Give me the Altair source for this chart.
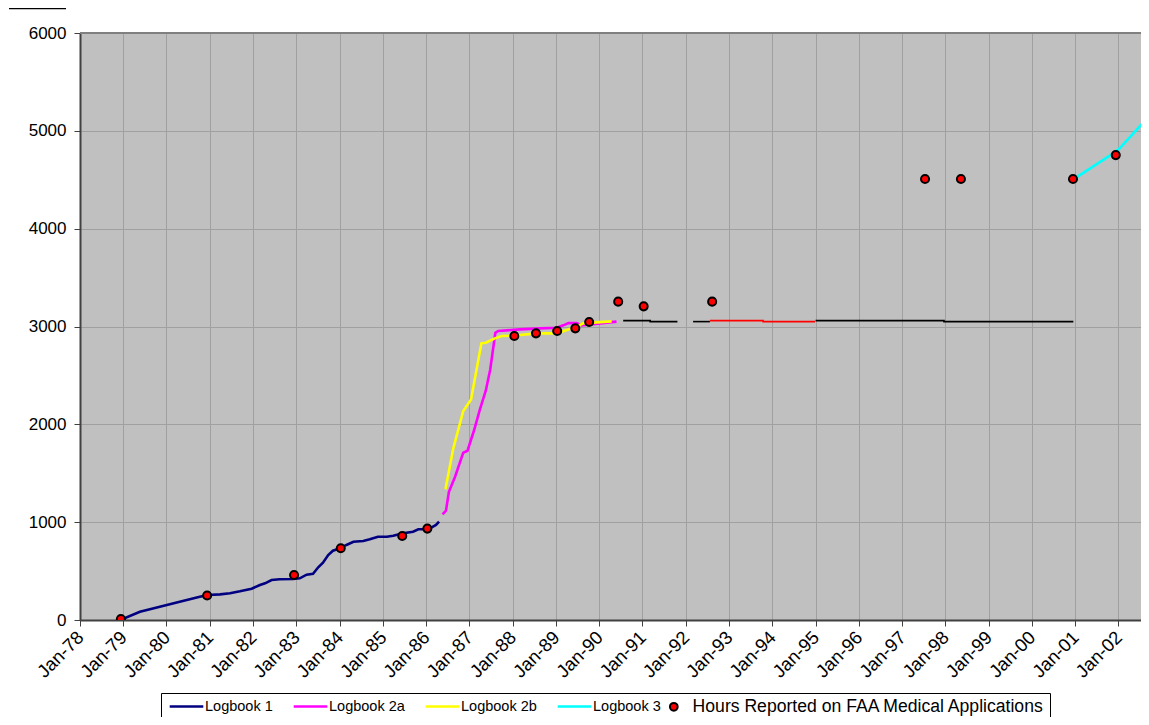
import altair as alt
import pandas as pd

# ---------------- data ----------------
lb1_dates = ["1978-12-08", "1979-05-22", "1979-11-06", "1980-04-22", "1980-10-08", "1980-12-16",
             "1981-03-28", "1981-06-20", "1981-09-12", "1981-12-20", "1982-02-28", "1982-04-12",
             "1982-06-06", "1982-08-14", "1982-12-05", "1983-01-30", "1983-03-29", "1983-05-22",
             "1983-07-05", "1983-08-14", "1983-09-27", "1983-11-06", "1984-01-04", "1984-02-28",
             "1984-04-27", "1984-07-19", "1984-09-12", "1984-11-20", "1985-02-03", "1985-03-29",
             "1985-06-21", "1985-09-12", "1985-10-27", "1986-01-04", "1986-02-17", "1986-03-25",
             "1986-04-20"]
lb1_hours = [0, 85, 136, 187, 238, 255, 262, 273, 293, 320, 358, 375, 409, 416, 419, 426, 463, 473,
             539, 586, 664, 708, 733, 767, 800, 807, 825, 851, 851, 862, 886, 903, 927, 927, 947, 971,
             1005]

lb2a_dates = ["1986-05-19", "1986-06-17", "1986-07-12", "1986-09-02", "1986-11-10", "1986-12-16",
              "1987-02-10", "1987-03-29", "1987-05-19", "1987-06-25", "1987-08-08", "1987-09-02",
              "1988-03-03", "1988-08-18", "1989-01-08", "1989-03-04", "1989-04-16", "1989-06-25",
              "1989-08-04", "1990-05-27"]
lb2a_hours = [1080, 1117, 1311, 1465, 1710, 1730, 1942, 2146, 2344, 2555, 2936, 2954, 2971, 2981,
              2988, 3012, 3035, 3035, 3012, 3050]

lb2b_dates = ["1986-06-13", "1986-08-18", "1986-11-10", "1987-01-15", "1987-04-12", "1987-05-19",
              "1987-08-04", "1987-10-01", "1988-01-04", "1988-07-19", "1989-01-08", "1989-04-01",
              "1989-06-25", "1989-08-18", "1989-12-10", "1990-04-16"]
lb2b_hours = [1336, 1755, 2136, 2255, 2828, 2834, 2879, 2903, 2906, 2930, 2930, 2964, 2998, 3032,
              3042, 3052]

lb3_dates = ["2000-12-16", "2001-11-17", "2002-01-11", "2002-09-12"]
lb3_hours = [4504, 4770, 4821, 5145]

# unlabelled flat segments (black and red)
black_seg_ids = ["b1", "b1", "b1", "b1", "b2", "b2", "b3", "b3", "b3", "b3"]
black_seg_dates = ["1990-07-22", "1991-03-07", "1991-03-07", "1991-10-23",
                   "1992-03-03", "1992-07-23",
                   "1995-01-01", "1997-12-20", "1997-12-20", "2000-12-16"]
black_seg_hours = [3060, 3060, 3050, 3050, 3050, 3050, 3060, 3060, 3050, 3050]

red_seg_dates = ["1992-07-23", "1993-10-15", "1993-10-15", "1994-12-28"]
red_seg_hours = [3060, 3060, 3050, 3050]

faa_dates = ["1978-12-12", "1980-12-09", "1982-12-13", "1984-01-11", "1985-06-13", "1986-01-11",
             "1988-01-15", "1988-07-16", "1989-01-11", "1989-06-13", "1989-10-08", "1990-06-10",
             "1991-01-11", "1992-08-11", "1997-07-13", "1998-05-12", "2000-12-13", "2001-12-09"]
faa_hours = [10, 250, 460, 733, 859, 934, 2903, 2930, 2954, 2981, 3046, 3254, 3206, 3254, 4507,
             4507, 4507, 4752]

FAA = "Hours Reported on FAA Medical Applications"
logbook_names = ["Logbook 1", "Logbook 2a", "Logbook 2b", "Logbook 3"]
logbook_colors = ["#000080", "#ff00ff", "#ffff00", "#00ffff"]

# ---------------- tables ----------------
rows = []
for name, ds, vs in [("Logbook 1", lb1_dates, lb1_hours),
                     ("Logbook 2a", lb2a_dates, lb2a_hours),
                     ("Logbook 2b", lb2b_dates, lb2b_hours),
                     ("Logbook 3", lb3_dates, lb3_hours)]:
    for d, v in zip(ds, vs):
        rows.append({"date": d, "hours": v, "series": name})
lines_df = pd.DataFrame(rows)
black_df = pd.DataFrame({"date": black_seg_dates, "hours": black_seg_hours, "seg": black_seg_ids})
red_df = pd.DataFrame({"date": red_seg_dates, "hours": red_seg_hours})
faa_df = pd.DataFrame({"date": faa_dates, "hours": faa_hours, "series": [FAA] * len(faa_dates)})

FONT = "Liberation Sans"
GRID = "#a0a0a0"
AXIS_DARK = "#404040"

x_enc = alt.X(
    "date:T",
    scale=alt.Scale(domain=[alt.DateTime(year=1978, month=1, date=1),
                            alt.DateTime(year=2002, month=7, date=10)]),
    axis=alt.Axis(format="%b-%y", tickCount={"interval": "year", "step": 1}, labelAngle=-45,
                  labelAlign="right", labelBaseline="middle", labelPadding=8, labelFontSize=18.5,
                  labelFont=FONT, labelColor="black", labelOverlap=False, labelFlush=False,
                  tickSize=6, tickColor=AXIS_DARK, domainColor=AXIS_DARK, domainWidth=2,
                  grid=True, gridColor=GRID, gridWidth=1, title=None),
)
y_enc = alt.Y(
    "hours:Q",
    scale=alt.Scale(domain=[0, 6000], nice=False),
    axis=alt.Axis(values=[0, 1000, 2000, 3000, 4000, 5000, 6000], format="d", labelFontSize=17,
                  labelFont=FONT, labelColor="black", labelPadding=8, tickSize=6,
                  tickColor=AXIS_DARK, domainColor=AXIS_DARK, domainWidth=2, grid=True,
                  gridColor=GRID, gridWidth=1, title=None),
)

# line legend (no box of its own), placed inside the box drawn by the point legend
line_legend = alt.Legend(
    orient="none", legendX=81, legendY=660, direction="horizontal", columns=4, title=None,
    padding=5, symbolType="M-2.4,0H2.4", symbolSize=196,
    symbolStrokeWidth=2.5, labelFont=FONT, labelFontSize=14.5, labelColor="black",
    columnPadding=15, labelOffset=10, symbolOffset=12, labelLimit=600,
)
stroke_enc = alt.Stroke("series:N", scale=alt.Scale(domain=logbook_names, range=logbook_colors),
                        legend=line_legend)

# point legend: its box spans the whole legend row, dot shifted right past the line entries
point_legend = alt.Legend(
    orient="none", legendX=81, legendY=660, direction="horizontal", title=None,
    strokeColor="black", padding=5,
    symbolType="circle", symbolSize=60, symbolStrokeColor="black", symbolStrokeWidth=2,
    symbolOpacity=1, symbolOffset=499, labelFont=FONT, labelFontSize=17.6, labelColor="black",
    labelOffset=10, labelLimit=600,
)
fill_enc = alt.Fill("series:N", scale=alt.Scale(domain=[FAA], range=["#ff0000"]),
                    legend=point_legend)

logbooks = alt.Chart(lines_df).mark_line(strokeWidth=2.6, clip=True).encode(
    x=x_enc, y=y_enc, stroke=stroke_enc, order="date:T")

black_lines = alt.Chart(black_df).mark_line(strokeWidth=1.6, color="black", clip=True).encode(
    x="date:T", y="hours:Q", detail="seg:N")
red_lines = alt.Chart(red_df).mark_line(strokeWidth=1.6, color="#ff0000", clip=True).encode(
    x="date:T", y="hours:Q")

faa_points = alt.Chart(faa_df).mark_point(filled=True, shape="circle", size=65, stroke="black",
                                          strokeWidth=2, opacity=1, clip=True).encode(
    x="date:T", y="hours:Q", fill=fill_enc)

top_border = alt.Chart(pd.DataFrame({"k": [0]})).mark_rule(color="#808080", strokeWidth=2).encode(
    y=alt.datum(6000), x=alt.value(0), x2=alt.value(1061))

corner_mark = alt.Chart(pd.DataFrame({"k": [0]})).mark_rule(color="black", strokeWidth=1.3).encode(
    x=alt.value(-71), x2=alt.value(-14), y=alt.value(-24.3))

chart = alt.layer(top_border, logbooks, black_lines, red_lines, faa_points, corner_mark).properties(
    width=1061, height=587,
    autosize=alt.AutoSizeParams(type="none"),
    padding={"left": 72, "top": 25, "right": 0, "bottom": 97},
).configure_view(fill="#c0c0c0", stroke=None)

chart.save("out.html", embed_options={"renderer": "svg", "actions": False})
